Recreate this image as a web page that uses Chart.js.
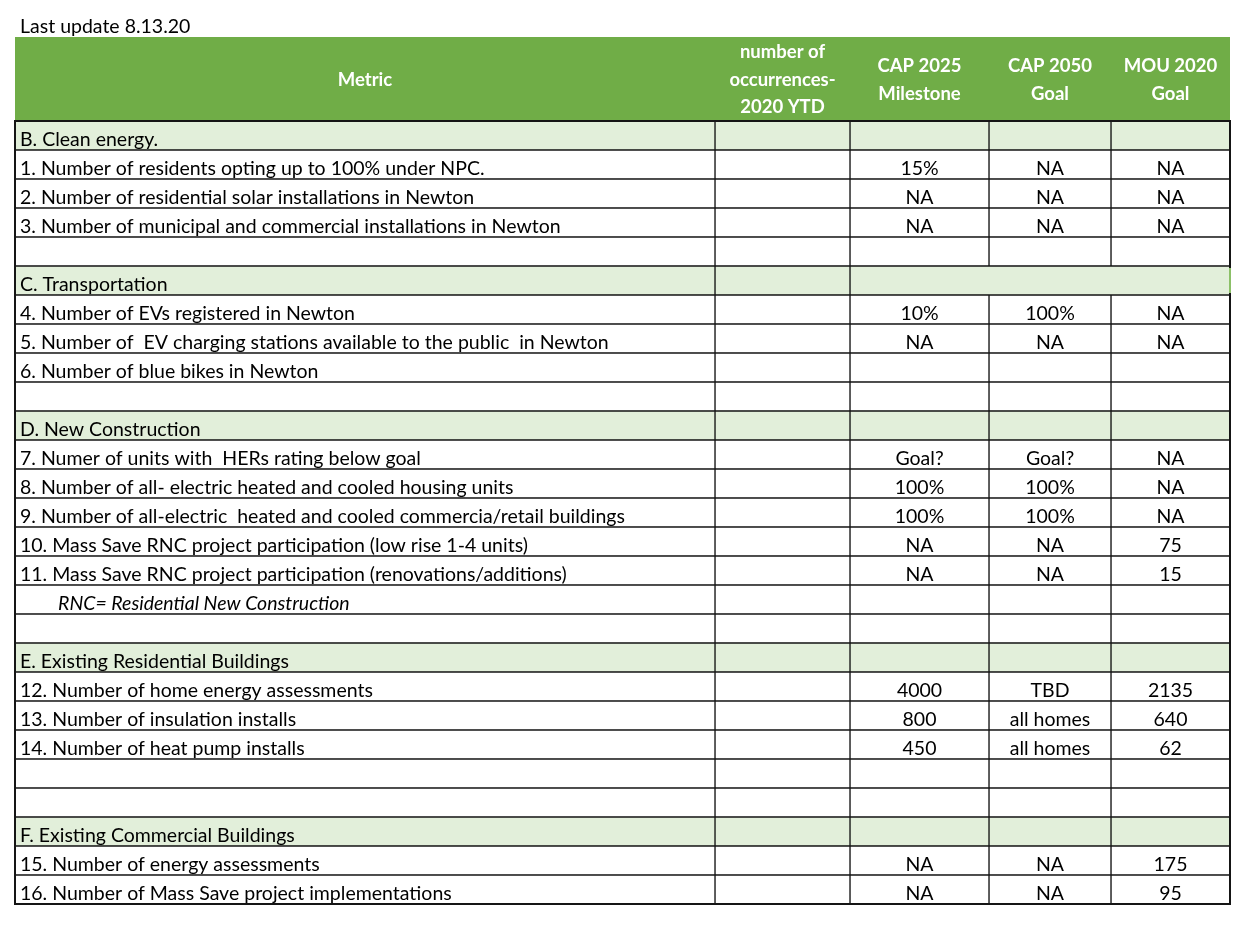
<!DOCTYPE html>
<html>
<head>
<meta charset="utf-8">
<script src="https://cdn.jsdelivr.net/npm/chart.js@4.4.1/dist/chart.umd.min.js"></script>
<style>
html,body{margin:0;padding:0;background:#fff;}
#wrap{width:1258px;height:925px;position:relative;}
</style>
</head>
<body>
<div id="wrap"><canvas id="c" width="1258" height="925"></canvas></div>
<script>
// ---- data ----
const updateNote = 'Last update 8.13.20';
const headers = [['Metric'], ['number of', 'occurrences-', '2020 YTD'], ['CAP 2025', 'Milestone'], ['CAP 2050', 'Goal'], ['MOU 2020', 'Goal']];
const metrics = [
  'B. Clean energy.',
  '1. Number of residents opting up to 100% under NPC.',
  '2. Number of residential solar installations in Newton',
  '3. Number of municipal and commercial installations in Newton',
  '',
  'C. Transportation',
  '4. Number of EVs registered in Newton',
  '5. Number of  EV charging stations available to the public  in Newton',
  '6. Number of blue bikes in Newton',
  '',
  'D. New Construction',
  '7. Numer of units with  HERs rating below goal',
  '8. Number of all- electric heated and cooled housing units',
  '9. Number of all-electric  heated and cooled commercia/retail buildings',
  '10. Mass Save RNC project participation (low rise 1-4 units)',
  '11. Mass Save RNC project participation (renovations/additions)',
  'RNC= Residential New Construction',
  '',
  'E. Existing Residential Buildings',
  '12. Number of home energy assessments',
  '13. Number of insulation installs',
  '14. Number of heat pump installs',
  '',
  '',
  'F. Existing Commercial Buildings',
  '15. Number of energy assessments',
  '16. Number of Mass Save project implementations'
];
const sectionRows = [0, 5, 10, 18, 24];
const noteRows = [16];
const mergedRows = [5]; // CAP 2025 .. MOU 2020 merged
const occurrences2020 = ['', '', '', '', '', '', '', '', '', '', '', '', '', '', '', '', '', '', '', '', '', '', '', '', '', '', ''];
const cap2025 = ['', '15%', 'NA', 'NA', '', '', '10%', 'NA', '', '', '', 'Goal?', '100%', '100%', 'NA', 'NA', '', '', '', '4000', '800', '450', '', '', '', 'NA', 'NA'];
const cap2050 = ['', 'NA', 'NA', 'NA', '', '', '100%', 'NA', '', '', '', 'Goal?', '100%', '100%', 'NA', 'NA', '', '', '', 'TBD', 'all homes', 'all homes', '', '', '', 'NA', 'NA'];
const mou2020 = ['', 'NA', 'NA', 'NA', '', '', 'NA', 'NA', '', '', '', 'NA', 'NA', 'NA', '75', '15', '', '', '', '2135', '640', '62', '', '', '', '175', '95'];

// ---- layout / style ----
const colEdges = [0, 700, 835, 974, 1096, 1215];
const GREEN = '#70AD47', LIGHT = '#E2EFDA', LINE = '#151515';
const FONT = 'Lato, "Liberation Sans", sans-serif';
const BODY = '19.5px ' + FONT;
const HEAD = 'bold 18.5px ' + FONT;
const headerH = 84;

const columns = [metrics, occurrences2020, cap2025, cap2050, mou2020];
const rowIdx = metrics.map((_, i) => i);
const fills = rowIdx.map(i => sectionRows.includes(i) ? LIGHT : '#ffffff');

const datasets = columns.map((vals, c) => ({
  label: 'col' + c,
  data: rowIdx.map(i => {
    if (mergedRows.includes(i)) {
      if (c === 2) return [colEdges[2], colEdges[5]];
      if (c > 2) return null;
    }
    return [colEdges[c], colEdges[c + 1]];
  }),
  backgroundColor: fills,
  borderColor: LINE,
  borderWidth: 1,
  borderSkipped: false,
  grouped: false,
  barPercentage: 1,
  categoryPercentage: 1
}));

const tablePlugin = {
  id: 'tableText',
  beforeDatasetsDraw(chart) {
    const ctx = chart.ctx, xs = chart.scales.x, a = chart.chartArea;
    const top = a.top - headerH;
    ctx.save();
    ctx.fillStyle = GREEN;
    ctx.fillRect(xs.getPixelForValue(colEdges[0]), top, xs.getPixelForValue(colEdges[5]) - xs.getPixelForValue(colEdges[0]), headerH);
    ctx.fillStyle = '#ffffff';
    ctx.font = HEAD;
    ctx.textAlign = 'center';
    ctx.textBaseline = 'middle';
    headers.forEach((lines, c) => {
      const cx = (xs.getPixelForValue(colEdges[c]) + xs.getPixelForValue(colEdges[c + 1])) / 2;
      const lh = 27.5;
      const cy = top + headerH / 2 + 1;
      lines.forEach((t, k) => ctx.fillText(t, cx, cy + (k - (lines.length - 1) / 2) * lh));
    });
    ctx.fillStyle = '#000';
    ctx.font = BODY;
    ctx.textAlign = 'left';
    ctx.textBaseline = 'alphabetic';
    ctx.fillText(updateNote, xs.getPixelForValue(colEdges[0]) + 5, top - 4);
    ctx.restore();
  },
  afterDatasetsDraw(chart) {
    const ctx = chart.ctx, a = chart.chartArea;
    ctx.save();
    ctx.strokeStyle = LINE;
    ctx.lineWidth = 2;
    ctx.strokeRect(a.left, a.top, a.right - a.left, a.bottom - a.top);
    // merged row: right edge shows the green of the merged cell
    const m2 = chart.getDatasetMeta(2);
    mergedRows.forEach(i => {
      const el = m2.data[i];
      ctx.strokeStyle = '#8CC068';
      ctx.beginPath();
      ctx.moveTo(a.right, el.y - el.height / 2 + 2);
      ctx.lineTo(a.right, el.y + el.height / 2 - 2);
      ctx.stroke();
    });
    ctx.fillStyle = '#000';
    ctx.textBaseline = 'alphabetic';
    columns.forEach((vals, c) => {
      const meta = chart.getDatasetMeta(c);
      vals.forEach((t, i) => {
        if (!t) return;
        const el = meta.data[i];
        const bottom = el.y + el.height / 2;
        const left = Math.min(el.x, el.base), right = Math.max(el.x, el.base);
        if (c === 0) {
          const note = noteRows.includes(i);
          ctx.font = (note ? 'italic ' : '') + BODY;
          ctx.textAlign = 'left';
          ctx.fillText(t, left + (note ? 43 : 5), bottom - 4);
        } else {
          ctx.font = BODY;
          ctx.textAlign = 'center';
          ctx.fillText(t, (left + right) / 2, bottom - 4);
        }
      });
    });
    ctx.restore();
  }
};

new Chart(document.getElementById('c'), {
  type: 'bar',
  data: { labels: rowIdx.map(String), datasets },
  options: {
    indexAxis: 'y',
    responsive: false,
    animation: false,
    layout: { padding: { top: 121, bottom: 21, left: 15, right: 28 } },
    scales: {
      x: { type: 'linear', min: colEdges[0], max: colEdges[5], display: false },
      y: { type: 'category', display: false, offset: true }
    },
    plugins: { legend: { display: false }, tooltip: { enabled: false }, title: { display: false } }
  },
  plugins: [tablePlugin]
});
</script>
</body>
</html>
